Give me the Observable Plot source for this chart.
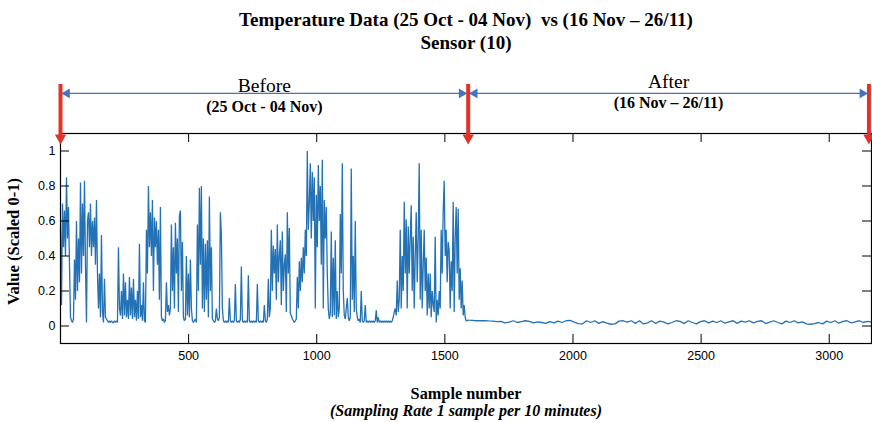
<!DOCTYPE html>
<html><head><meta charset="utf-8">
<script src="https://cdn.jsdelivr.net/npm/d3@7"></script>
<script src="https://cdn.jsdelivr.net/npm/@observablehq/plot@0.6"></script>
<style>
body{margin:0;background:#fff;}
</style></head><body>
<div id="chart"></div>
<script>
// ---- data ----
const xTicks = [500, 1000, 1500, 2000, 2500, 3000];
const yTicks = [0, 0.2, 0.4, 0.6, 0.8, 1];
const periodBounds = [0, 1591, 3155];
const periodNames = ["Before", "After"];
const periodDates = ["(25 Oct - 04 Nov)", "(16 Nov \u2013 26/11)"];
const beforeStart = 0, beforeEnd = 1591, afterStart = 1592, afterEnd = 3165;
// sensor values, samples 0..1591 (one reading every ~4 samples)
const beforeValues = [
0.55,0.12,0.7,0.45,0.66,0.4,0.85,0.5,0.68,0.35,
0.05,0.03,0.02,0.04,0.38,0.15,0.6,0.2,0.5,0.25,
0.82,0.3,0.7,0.4,0.83,0.35,0.02,0.6,0.65,0.45,
0.7,0.4,0.6,0.45,0.62,0.35,0.72,0.3,0.1,0.3,
0.05,0.52,0.08,0.02,0.27,0.05,0.04,0.03,0.02,0.03,
0.02,0.03,0.02,0.02,0.03,0.02,0.03,0.02,0.45,0.1,
0.06,0.2,0.04,0.3,0.06,0.25,0.05,0.15,0.04,0.28,
0.06,0.22,0.04,0.27,0.05,0.15,0.03,0.2,0.04,0.47,
0.05,0.12,0.03,0.25,0.03,0.02,0.55,0.3,0.8,0.45,
0.65,0.4,0.72,0.2,0.62,0.45,0.6,0.35,0.55,0.15,
0.68,0.05,0.03,0.04,0.02,0.03,0.25,0.08,0.12,0.06,
0.1,0.58,0.2,0.45,0.1,0.59,0.3,0.5,0.08,0.63,
0.66,0.2,0.48,0.05,0.03,0.04,0.4,0.06,0.3,0.05,
0.38,0.1,0.03,0.02,0.03,0.04,0.02,0.58,0.2,0.79,
0.35,0.8,0.1,0.5,0.08,0.47,0.15,0.49,0.05,0.74,
0.2,0.45,0.04,0.03,0.02,0.03,0.1,0.04,0.03,0.05,
0.65,0.52,0.1,0.03,0.02,0.03,0.02,0.03,0.02,0.16,
0.03,0.02,0.03,0.02,0.03,0.24,0.03,0.02,0.03,0.02,
0.04,0.34,0.03,0.02,0.03,0.02,0.03,0.02,0.29,0.03,
0.02,0.03,0.02,0.03,0.02,0.03,0.02,0.24,0.03,0.02,
0.03,0.02,0.03,0.02,0.12,0.03,0.02,0.04,0.27,0.05,
0.1,0.55,0.2,0.46,0.3,0.44,0.15,0.58,0.25,0.4,
0.49,0.12,0.54,0.2,0.35,0.41,0.08,0.65,0.3,0.56,
0.07,0.06,0.04,0.03,0.02,0.03,0.04,0.28,0.1,0.37,
0.2,0.39,0.25,0.45,0.3,0.55,0.4,1.0,0.55,0.7,
0.93,0.5,0.88,0.6,0.85,0.1,0.75,0.45,0.92,0.6,
0.8,0.35,0.95,0.1,0.72,0.5,0.68,0.3,0.1,0.04,
0.07,0.54,0.05,0.39,0.06,0.49,0.04,0.2,0.05,0.1,
0.64,0.3,0.93,0.2,0.06,0.04,0.1,0.16,0.05,0.03,
0.05,0.9,0.15,0.4,0.08,0.6,0.1,0.05,0.03,0.04,
0.02,0.2,0.03,0.02,0.03,0.12,0.02,0.03,0.02,0.03,
0.02,0.03,0.02,0.03,0.02,0.03,0.09,0.02,0.05,0.02,
0.03,0.02,0.03,0.02,0.03,0.02,0.03,0.02,0.03,0.02,
0.03,0.02,0.03,0.05,0.08,0.1,0.06,0.26,0.08,0.15,
0.55,0.1,0.4,0.2,0.71,0.3,0.61,0.1,0.57,0.3,
0.5,0.69,0.2,0.51,0.1,0.4,0.65,0.25,0.5,0.93,
0.15,0.55,0.1,0.35,0.55,0.2,0.39,0.06,0.3,0.1,
0.3,0.05,0.2,0.12,0.08,0.51,0.02,0.15,0.06,0.2,
0.1,0.55,0.3,0.66,0.83,0.4,0.55,0.25,0.48,0.43,
0.1,0.37,0.2,0.71,0.08,0.5,0.68,0.3,0.67,0.15,
0.33,0.1,0.26,0.06,0.12,0.05,0.03,0.03,0.035
];
// sensor values, samples 1592..3165 (one reading every ~16 samples)
const afterValues = [
0.033,0.032,0.03,0.03,0.031,0.029,0.028,0.025,0.027,0.018,
0.022,0.03,0.02,0.025,0.03,0.027,0.018,0.024,0.02,0.015,
0.025,0.018,0.028,0.02,0.03,0.032,0.022,0.014,0.012,0.03,
0.02,0.03,0.015,0.025,0.016,0.01,0.012,0.028,0.03,0.022,
0.03,0.015,0.03,0.012,0.018,0.03,0.014,0.028,0.022,0.012,
0.02,0.03,0.026,0.014,0.03,0.02,0.012,0.025,0.03,0.018,
0.028,0.02,0.03,0.016,0.024,0.03,0.015,0.028,0.022,0.03,
0.018,0.026,0.03,0.014,0.022,0.03,0.02,0.012,0.028,0.02,
0.03,0.018,0.024,0.012,0.01,0.014,0.02,0.012,0.028,0.02,
0.03,0.016,0.026,0.03,0.018,0.024,0.03,0.02,0.026,0.022
];

// ---- table built from the arrays ----
const stepB = (beforeEnd - beforeStart) / (beforeValues.length - 1);
const stepA = (afterEnd - afterStart) / (afterValues.length - 1);
const series = beforeValues.map((v, i) => ({sample: beforeStart + i * stepB, value: v}))
  .concat(afterValues.map((v, i) => ({sample: afterStart + i * stepA, value: v})));
const periods = periodNames.map((name, i) => ({
  name, dates: periodDates[i], x1: periodBounds[i], x2: periodBounds[i + 1],
  mid: (periodBounds[i] + periodBounds[i + 1]) / 2
}));

const serif = '"Liberation Serif", "Times New Roman", serif';
const red = "#e2322a";
const blue = "#4672c4";

const chart = Plot.plot({
  width: 872, height: 422,
  marginTop: 133, marginBottom: 79, marginLeft: 60, marginRight: 1,
  style: {fontFamily: '"Liberation Sans", Arial, sans-serif', fontSize: "12.5px", color: "#000", background: "#fff", overflow: "visible"},
  x: {domain: [0, 3165], ticks: xTicks, tickSize: 0, tickPadding: 8, label: null, tickFormat: d => String(d)},
  y: {domain: [-0.1, 1.1], ticks: yTicks, tickSize: 0, tickPadding: 5, label: null, tickFormat: d => String(d)},
  marks: [
    Plot.line(series, {x: "sample", y: "value", stroke: "#2472b6", strokeWidth: 1.3, strokeLinejoin: "miter"}),
    Plot.tickX(xTicks, {x: d => d, insetTop: 201, stroke: "#000"}),
    Plot.tickX(xTicks, {x: d => d, insetBottom: 201, stroke: "#000"}),
    Plot.tickY(yTicks, {y: d => d, insetRight: 802, stroke: "#000"}),
    Plot.tickY(yTicks, {y: d => d, insetLeft: 802, stroke: "#000"}),
    Plot.frame({stroke: "#000", strokeWidth: 1.2}),
    // period annotations
    Plot.link(periods, {x1: "x1", x2: "x2", y1: 1.329, y2: 1.329, stroke: blue, strokeWidth: 1.2}),
    Plot.dot(periods, {x: "x1", y: 1.329, symbol: "triangle", rotate: -90, dx: 6.5, r: 3.6, fill: blue, stroke: "none"}),
    Plot.dot(periods, {x: "x2", y: 1.329, symbol: "triangle", rotate: 90, dx: -6.5, r: 3.6, fill: blue, stroke: "none"}),
    Plot.ruleX(periodBounds, {x: d => d, y1: 1.085, y2: 1.38, stroke: red, strokeWidth: 4}),
    Plot.dot(periodBounds, {x: d => d, y: 1.075, symbol: "triangle", rotate: 180, fill: red, stroke: "none", r: 4.2}),
    Plot.text(periods, {x: "mid", y: d => d.name === "Before" ? 1.374 : 1.397, text: "name", fontFamily: serif, fontSize: 19.5}),
    Plot.text(periods, {x: "mid", y: d => d.name === "Before" ? 1.254 : 1.277, text: "dates", fontFamily: serif, fontSize: 16, fontWeight: "bold"}),
    // titles
    Plot.text(["Temperature Data (25 Oct - 04 Nov)\u00a0 vs (16 Nov \u2013 26/11)"], {frameAnchor: "top", lineAnchor: "middle", dy: -114, text: d => d, fontFamily: serif, fontSize: 19, fontWeight: "bold"}),
    Plot.text(["Sensor (10)"], {frameAnchor: "top", lineAnchor: "middle", dy: -91, text: d => d, fontFamily: serif, fontSize: 19, fontWeight: "bold"}),
    Plot.text(["Value (Scaled 0-1)"], {frameAnchor: "left", textAnchor: "middle", lineAnchor: "middle", dx: -47, dy: 3, rotate: -90, text: d => d, fontFamily: serif, fontSize: 16.5, fontWeight: "bold"}),
    Plot.text(["Sample number"], {frameAnchor: "bottom", lineAnchor: "middle", dy: 50, text: d => d, fontFamily: serif, fontSize: 16.3, fontWeight: "bold"}),
    Plot.text(["(Sampling Rate 1 sample per 10 minutes)"], {frameAnchor: "bottom", lineAnchor: "middle", dy: 67, text: d => d, fontFamily: serif, fontSize: 16, fontWeight: "bold", fontStyle: "italic"})
  ]
});
document.getElementById("chart").appendChild(chart);
</script>
</body></html>
